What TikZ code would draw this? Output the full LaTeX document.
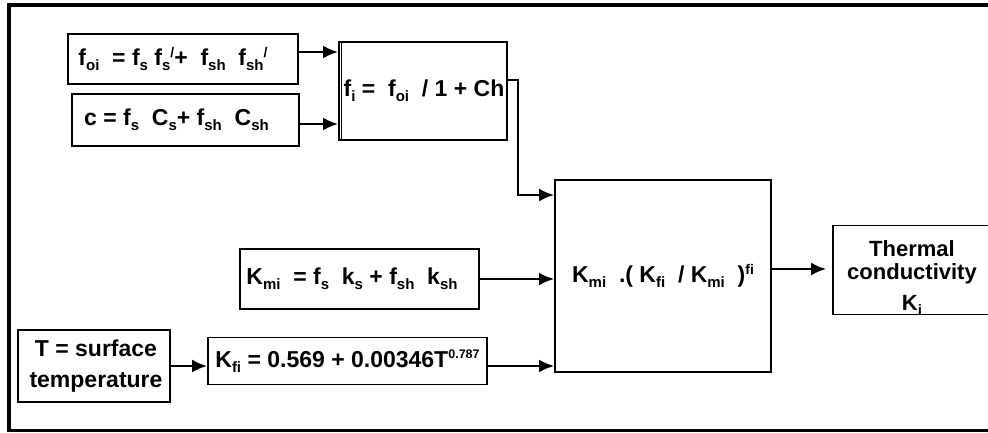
\documentclass[tikz,border=0pt]{standalone}
\usepackage{fontspec}
\setmainfont{Liberation Sans}
\usetikzlibrary{arrows.meta,calc}
\newcommand\sbs[1]{\raisebox{-5pt}{\fontsize{15}{15}\selectfont #1}}
\newcommand\sps[1]{\raisebox{8pt}{\fontsize{14}{14}\selectfont #1}}
\newcommand\spsm[1]{\raisebox{9pt}{\fontsize{12.5}{12.5}\selectfont #1}}
\newcommand\trail[1]{\hspace*{#1}\mbox{}}
\tikzset{
  box/.style={draw=black,line width=1.9pt,rectangle,inner sep=0pt,font=\bfseries\fontsize{23}{26}\selectfont},
  arr/.style={line width=2.3pt,-{Latex[length=15pt,width=13pt]}},
  frame/.style={line width=3.8pt,line cap=rect},
  lbl/.style={inner sep=0pt,align=center,font=\bfseries\fontsize{23}{26}\selectfont}
}
\begin{document}
\begin{tikzpicture}[x=1pt,y=-1pt]
\useasboundingbox (0,0) rectangle (988,432);
% outer frame
\coordinate (ftl) at (9,5);
\coordinate (fbl) at (9,430.5);
\coordinate (ftr) at (995,5);
\coordinate (fbr) at (995,430.5);
\draw[frame] (ftr) -- (ftl) -- (fbl) -- (fbr);
% boxes
\node[box,minimum width=230pt,minimum height=50pt] (foi) at (183,59) {f\sbs{oi}~ = f\sbs{s}~f\sbs{s}\sps{/}+~ f\sbs{sh}~ f\sbs{sh}\sps{/}\trail{20pt}};
\node[box,minimum width=227pt,minimum height=52pt] (c) at (185.5,120) {c = f\sbs{s}~ C\sbs{s}+ f\sbs{sh}~ C\sbs{sh}\trail{18pt}};
\node[box,minimum width=168pt,minimum height=98pt] (fi) at (423,91) {\hspace{2pt}f\sbs{i} =~ f\sbs{oi}~ / 1 + Ch};
\draw[line width=1pt] ($(fi.north west)+(3,0)$) -- ($(fi.south west)+(3,0)$);
\node[box,minimum width=216pt,minimum height=192pt] (big) at (663,276) {K\sbs{mi}~ .( K\sbs{fi}~ / K\sbs{mi}~ )\sps{fi}};
\node[box,minimum width=239pt,minimum height=60pt] (kmi) at (359.5,279) {K\sbs{mi}~ = f\sbs{s}~ k\sbs{s} + f\sbs{sh}~ k\sbs{sh}\trail{15pt}};
\node[box,minimum width=152pt,minimum height=72pt] (t) at (94,366) {};
\node[lbl,font=\bfseries\fontsize{23}{31}\selectfont,anchor=north] (tt) at (96,340) {T = surface\\temperature};
\node[box,minimum width=279pt,minimum height=47pt] (kfi) at (347.5,361) {K\sbs{fi} = 0.569 + 0.00346T\spsm{0.787}};
\node[box,minimum width=160pt,minimum height=89pt] (th) at (913,270) {};
\node[lbl,font=\bfseries\fontsize{22}{23}\selectfont,anchor=north] (tht) at (912,240) {Thermal\\conductivity\\[8pt]K\sbs{i}};
% connectors
\draw[arr] (foi.east |- 0,52) -- (fi.west |- 0,52);
\draw[arr] (c.east |- 0,124) -- (fi.west |- 0,124);
\draw[arr] ($(fi.east)+(0,-11)$) -- ++(10,0) |- (big.west |- 0,195);
\draw[arr] (kmi.east) -- (big.west |- kmi.east);
\draw[arr] (t.east |- 0,366) -- (kfi.west |- 0,366);
\draw[arr] (kfi.east |- 0,366) -- (big.west |- 0,366);
\draw[arr] (big.east |- 0,269) -- ($(th.west |- 0,269)+(-6,0)$);
\end{tikzpicture}
\end{document}
